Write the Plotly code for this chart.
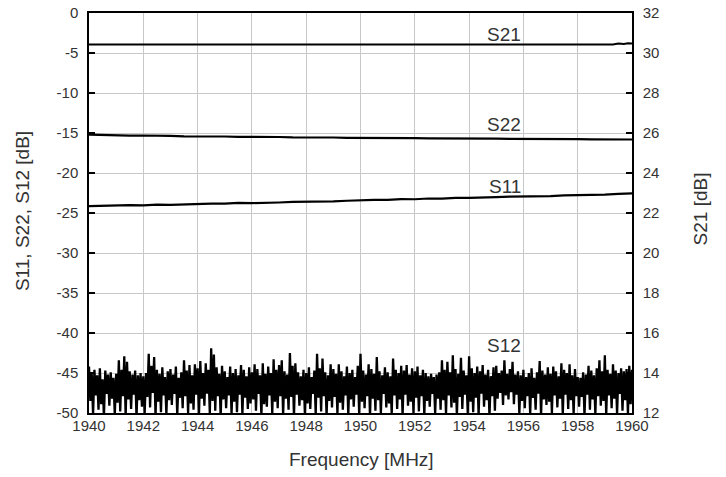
import numpy as np
import plotly.graph_objects as go

# ---------------- data ----------------
freq_start, freq_stop = 1940.0, 1960.0

# S21 (right axis, dB)
s21_freq = [1940.0, 1959.3, 1959.5, 1959.7, 1959.85, 1960.0]
s21_db = [30.42, 30.42, 30.47, 30.45, 30.49, 30.48]

# S22 and S11 (left axis, dB), sampled every 0.5 MHz
s22_db = [-15.20, -15.27, -15.25, -15.33, -15.31, -15.38, -15.36, -15.42, -15.40, -15.46,
          -15.44, -15.49, -15.47, -15.52, -15.50, -15.55, -15.53, -15.58, -15.56, -15.60,
          -15.59, -15.63, -15.61, -15.65, -15.64, -15.67, -15.66, -15.70, -15.68, -15.72,
          -15.71, -15.74, -15.73, -15.76, -15.75, -15.78, -15.77, -15.80, -15.79, -15.82,
          -15.81]
s11_db = [-24.14, -24.08, -24.10, -24.02, -24.04, -23.96, -23.98, -23.90, -23.90, -23.82,
          -23.82, -23.74, -23.76, -23.68, -23.69, -23.62, -23.62, -23.54, -23.55, -23.47,
          -23.40, -23.35, -23.36, -23.27, -23.28, -23.19, -23.20, -23.11, -23.12, -23.03,
          -23.02, -22.95, -22.95, -22.87, -22.88, -22.79, -22.79, -22.70, -22.70, -22.61,
          -22.55]

# S12 (left axis, dB), sampled every 0.05 MHz (one row per MHz)
s12_db = [
    -44.2, -48.5, -45.0, -50.2, -44.6, -47.8, -45.3, -49.6, -44.4, -48.9, -45.8, -50.5, -44.7, -47.6, -45.2, -49.1, -44.9, -48.2, -45.6, -50.3,
    -45.1, -48.7, -43.4, -49.8, -44.6, -47.9, -42.9, -50.4, -43.6, -48.3, -44.8, -49.5, -45.2, -47.7, -44.7, -50.6, -45.3, -48.4, -45.0, -49.2,
    -45.4, -50.1, -45.0, -48.0, -42.6, -49.3, -44.1, -47.5, -43.0, -50.5, -44.6, -48.6, -45.1, -49.9, -44.3, -47.8, -45.5, -50.2, -44.8, -48.4,
    -44.5, -49.0, -45.2, -47.6, -44.2, -50.3, -45.6, -48.1, -44.9, -49.4, -43.4, -47.9, -44.7, -50.0, -44.0, -48.8, -45.3, -49.6, -43.9, -47.7,
    -44.4, -50.4, -43.5, -48.2, -45.0, -49.1, -43.8, -47.6, -44.6, -50.1, -41.9, -48.5, -42.7, -49.7, -44.3, -47.9, -45.1, -50.6, -44.1, -48.3,
    -44.8, -49.4, -45.5, -47.8, -44.2, -50.2, -45.0, -48.6, -44.5, -49.9, -45.3, -47.7, -44.0, -50.3, -44.6, -48.1, -45.4, -49.5, -44.3, -48.8,
    -44.9, -48.3, -43.9, -49.7, -44.5, -47.6, -45.3, -50.4, -43.8, -48.9, -45.1, -49.2, -44.2, -47.8, -45.0, -50.1, -43.3, -48.6, -44.6, -49.4,
    -44.0, -47.9, -43.4, -50.3, -44.8, -48.2, -45.2, -49.6, -42.5, -48.0, -44.1, -50.5, -43.8, -47.7, -44.9, -49.1, -45.4, -48.4, -44.6, -50.0,
    -45.0, -48.8, -44.3, -49.5, -45.5, -47.6, -44.7, -50.2, -42.6, -48.1, -44.4, -49.8, -43.2, -47.9, -44.9, -50.4, -45.3, -48.5, -43.9, -49.3,
    -44.5, -48.0, -45.1, -50.1, -43.9, -48.7, -44.8, -49.6, -45.4, -47.8, -44.2, -50.3, -45.0, -48.3, -44.6, -49.2, -45.5, -47.7, -44.1, -50.0,
    -42.6, -48.6, -44.7, -49.4, -45.2, -47.9, -43.9, -50.5, -44.5, -48.2, -45.1, -49.7, -43.0, -48.4, -44.8, -50.1, -45.3, -47.6, -44.3, -49.3,
    -44.9, -48.8, -45.4, -50.2, -43.2, -47.8, -44.6, -49.5, -45.0, -48.3, -44.1, -50.4, -44.7, -47.7, -44.0, -49.1, -45.2, -48.6, -44.4, -50.0,
    -44.8, -48.1, -44.2, -49.8, -45.3, -47.9, -44.6, -50.3, -45.0, -48.5, -45.4, -49.2, -45.1, -47.6, -45.5, -50.1, -45.2, -48.2, -44.9, -49.6,
    -43.4, -48.4, -44.6, -50.2, -43.6, -47.8, -44.9, -49.3, -42.8, -48.7, -44.5, -50.4, -45.1, -48.0, -43.1, -49.5, -44.7, -47.7, -45.3, -50.0,
    -42.9, -48.6, -44.4, -49.9, -45.0, -48.1, -44.2, -50.3, -44.8, -47.6, -44.0, -49.2, -45.2, -48.4, -44.6, -50.5, -45.4, -47.9, -44.3, -49.7,
    -44.1, -48.2, -45.0, -47.5, -44.7, -49.0, -43.4, -47.8, -45.1, -48.3, -44.5, -47.4, -43.6, -48.9, -45.2, -47.7, -44.8, -50.1, -45.3, -48.5,
    -44.6, -49.4, -45.5, -47.9, -45.0, -50.2, -44.4, -48.1, -45.6, -49.6, -44.9, -47.6, -43.5, -50.4, -44.7, -48.3, -45.2, -49.0, -44.3, -48.6,
    -45.1, -50.0, -44.2, -47.8, -44.8, -49.3, -45.4, -48.2, -43.8, -50.3, -44.6, -47.7, -45.0, -49.5, -43.9, -48.4, -45.3, -50.1, -44.5, -47.9,
    -45.5, -49.2, -45.6, -48.0, -44.9, -50.4, -45.2, -47.7, -44.1, -49.6, -44.7, -48.3, -45.3, -50.2, -44.4, -47.9, -43.4, -49.1, -44.8, -48.5,
    -42.8, -50.3, -44.6, -47.8, -45.1, -49.4, -43.9, -48.2, -44.7, -50.1, -45.0, -47.6, -44.4, -49.7, -44.8, -48.4, -44.5, -50.2, -44.1, -48.9,
    -44.6,
]

series_labels = ["S21", "S22", "S11", "S12"]
label_freq = [1955.27, 1955.27, 1955.33, 1955.28]
label_left_db = [-2.7, -13.95, -21.7, -41.6]

x_ticks = list(range(1940, 1961, 2))
left_ticks = list(range(-50, 1, 5))
right_ticks = list(range(12, 33, 2))
left_tick_text = [str(v) for v in left_ticks]   # plain hyphen-minus as in the reference

# frequency grids for the sampled series
s22_freq = np.linspace(freq_start, freq_stop, len(s22_db))
s11_freq = np.linspace(freq_start, freq_stop, len(s11_db))
s12_freq = np.linspace(freq_start, freq_stop, len(s12_db))

# ---------------- figure ----------------
FONT = "Arial, Liberation Sans, sans-serif"
TXT = "#333333"
W, H = 726, 477
ML, MR, MT, MB = 88.5, 94, 13, 64

fig = go.Figure()
fig.add_trace(go.Scatter(x=s12_freq, y=s12_db, mode="lines", name="S12",
                         line=dict(color="black", width=2.3)))
fig.add_trace(go.Scatter(x=s11_freq, y=s11_db, mode="lines", name="S11",
                         line=dict(color="black", width=2.2)))
fig.add_trace(go.Scatter(x=s22_freq, y=s22_db, mode="lines", name="S22",
                         line=dict(color="black", width=2.2)))
fig.add_trace(go.Scatter(x=s21_freq, y=s21_db, mode="lines", name="S21",
                         line=dict(color="black", width=2), yaxis="y2"))

for lab, fx, fy in zip(series_labels, label_freq, label_left_db):
    fig.add_annotation(x=fx, y=fy, xref="x", yref="y", text=lab, showarrow=False,
                       font=dict(family=FONT, size=19, color=TXT))

# left axis title placed by pixel position
fig.add_annotation(x=(22 - ML) / (W - ML - MR), y=(H - MB - 211.5) / (H - MT - MB),
                   xref="paper", yref="paper", text="S11, S22, S12 [dB]",
                   showarrow=False, textangle=-90, xanchor="center", yanchor="middle",
                   font=dict(family=FONT, size=19, color=TXT))
# right axis title
fig.add_annotation(x=(701 - ML) / (W - ML - MR), y=(H - MB - 208.5) / (H - MT - MB),
                   xref="paper", yref="paper", text="S21 [dB]",
                   showarrow=False, textangle=-90, xanchor="center", yanchor="middle",
                   font=dict(family=FONT, size=19, color=TXT))
# bottom axis title
fig.add_annotation(x=(361 - ML) / (W - ML - MR), y=(H - MB - 459) / (H - MT - MB),
                   xref="paper", yref="paper", text="Frequency [MHz]",
                   showarrow=False, xanchor="center", yanchor="middle",
                   font=dict(family=FONT, size=19, color=TXT))

fig.update_layout(
    width=W, height=H,
    margin=dict(l=ML, r=MR, t=MT, b=MB, autoexpand=False),
    paper_bgcolor="white", plot_bgcolor="white",
    showlegend=False,
    font=dict(family=FONT, size=15, color=TXT),
    xaxis=dict(range=[freq_start, freq_stop], tickvals=x_ticks,
               showgrid=True, gridcolor="#c8c8c8", gridwidth=1,
               showline=True, linecolor="black", linewidth=1.5, mirror=True,
               ticks="", zeroline=False, automargin=False, ticklabelstandoff=-2,
               tickfont=dict(size=15, color=TXT)),
    yaxis=dict(range=[-50, 0], tickvals=left_ticks, ticktext=left_tick_text,
               showgrid=True, gridcolor="#c8c8c8", gridwidth=1,
               showline=True, linecolor="black", linewidth=1.5,
               ticks="inside", ticklen=6, tickcolor="black", tickwidth=1.5,
               ticklabelstandoff=6, zeroline=False, automargin=False,
               tickfont=dict(size=15, color=TXT)),
    yaxis2=dict(range=[12, 32], tickvals=right_ticks, overlaying="y", side="right",
                showgrid=False, showline=True, linecolor="black", linewidth=1.5,
                ticks="inside", ticklen=6, tickcolor="black", tickwidth=1.5,
                ticklabelstandoff=6, zeroline=False, automargin=False,
                tickfont=dict(size=15, color=TXT)),
)

fig.write_html("out.html", config={"displayModeBar": False},
               post_script="document.body.style.margin='0';document.body.style.padding='0';")
